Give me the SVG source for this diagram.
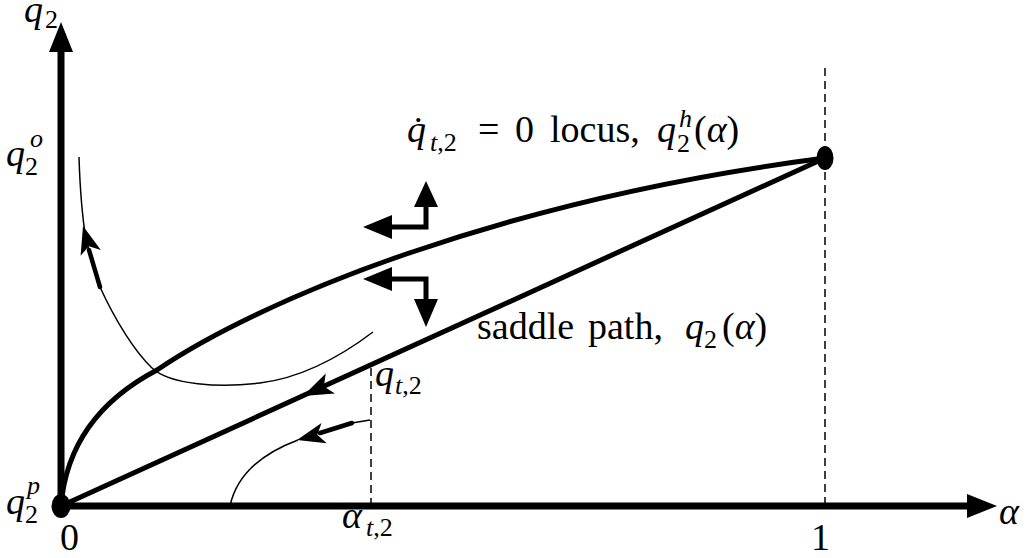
<svg xmlns="http://www.w3.org/2000/svg" width="1029" height="558" viewBox="0 0 1029 558">
<style>
.axis{stroke:#000;stroke-width:7;fill:none}
.thick{stroke:#000;stroke-width:5;fill:none}
.shaft{stroke:#000;stroke-width:4.5;fill:none;stroke-linecap:round}
.thin{stroke:#000;stroke-width:1.5;fill:none}
.dash{stroke:#000;stroke-width:1.5;fill:none;stroke-dasharray:8,5}
.head{fill:#000;stroke:none}
text{font-family:"Liberation Serif",serif;font-size:38px;fill:#000}
.i{font-style:italic}
.s{font-size:26px}
</style>
<rect width="1029" height="558" fill="#fff"/>
<g id="connectors">
<line class="dash" x1="825" y1="68" x2="825" y2="506"/>
<line class="dash" x1="371" y1="368" x2="371" y2="506"/>
<line class="axis" x1="61" y1="506" x2="61" y2="48"/>
<polygon class="head" points="61,22 73,52 49,52"/>
<line class="axis" x1="61" y1="506" x2="970" y2="506"/>
<polygon class="head" points="997,506 967,494 967,518"/>
<path id="locus" class="thick" d="M61,506 C66,445 100,400 157,370 C260,300 500,200 825,158"/>
<line id="saddle" class="thick" x1="61" y1="506" x2="825" y2="158"/>
<polygon class="head" points="303,396 334.9,393.6 323.9,386.5 325.7,373.6"/>
<path class="thin" d="M79,157 C80,190 82,215 86,240 L100,287 C115,320 135,352 152,368 C170,385 220,388 260,383 C300,378 340,357 373,332"/>
<line class="shaft" x1="89" y1="250" x2="100" y2="287"/>
<polygon class="head" points="83,226 100.8,250 88.8,246.2 80.6,255.8"/>
<path class="thin" d="M230,506 C236,478 258,455 298,440"/>
<line class="thin" x1="352" y1="423" x2="370" y2="420"/>
<line class="shaft" x1="320" y1="433" x2="352" y2="423"/>
<polygon class="head" points="297,440 321.5,422.9 317.3,434.8 326.7,443.3"/>
<polyline class="thick" points="388,227 426,227 426,204"/>
<polygon class="head" points="363,227 392,215 392,239"/>
<polygon class="head" points="426,181 438,207 414,207"/>
<polyline class="thick" points="388,279 426,279 426,302"/>
<polygon class="head" points="363,279 392,267 392,291"/>
<polygon class="head" points="426,327 438,299 414,299"/>
</g>
<g id="node-origin"><ellipse cx="61" cy="506" rx="9.5" ry="12"/></g>
<g id="node-top"><ellipse cx="825" cy="158" rx="8.5" ry="12"/></g>
<g id="labels">
<text y="22"><tspan x="24" class="i">q</tspan><tspan x="45" y="28" class="s">2</tspan></text>
<text y="166"><tspan x="6" class="i">q</tspan><tspan x="30" y="147" class="s i">o</tspan><tspan x="25" y="175" class="s">2</tspan></text>
<text y="514"><tspan x="6" class="i">q</tspan><tspan x="27" y="494" class="s i">p</tspan><tspan x="25" y="523" class="s">2</tspan></text>
<text x="60" y="550">0</text>
<text y="528"><tspan x="342" class="i">α</tspan><tspan x="366" y="536" class="s i">t</tspan><tspan class="s">,2</tspan></text>
<text x="811" y="550">1</text>
<text x="999" y="524" class="i">α</text>
<text y="386"><tspan x="375" class="i">q</tspan><tspan x="395" y="394" class="s i">t</tspan><tspan class="s">,2</tspan></text>
<text y="142"><tspan x="407" class="i">q̇</tspan><tspan x="430" y="151" class="s i">t</tspan><tspan class="s">,2</tspan><tspan x="478" y="142">=</tspan><tspan x="515">0</tspan><tspan x="550">locus,</tspan><tspan x="657" class="i">q</tspan><tspan x="679" y="127" class="s i">h</tspan><tspan x="677" y="152" class="s">2</tspan><tspan x="694" y="142">(</tspan><tspan class="i">α</tspan><tspan>)</tspan></text>
<text y="339"><tspan x="477">saddle</tspan><tspan x="588">path,</tspan><tspan x="685" class="i">q</tspan><tspan x="704" y="348" class="s">2</tspan><tspan x="722" y="339">(</tspan><tspan class="i">α</tspan><tspan>)</tspan></text>
</g>
</svg>
